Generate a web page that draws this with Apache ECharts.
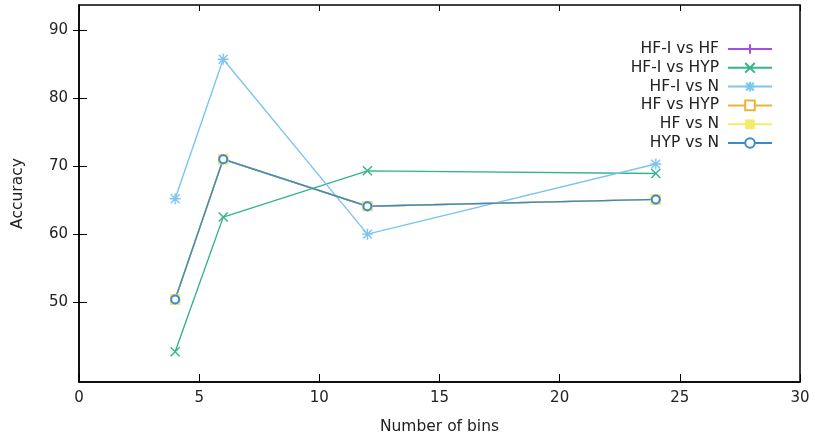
<!DOCTYPE html>
<html>
<head>
<meta charset="utf-8">
<script src="https://cdn.jsdelivr.net/npm/echarts@6/dist/echarts.min.js"></script>
<style>
  html, body { margin: 0; padding: 0; background: #fff; }
  #chart { width: 815px; height: 440px; }
</style>
</head>
<body>
<div id="chart"></div>
<script>
var bins = [4, 6, 12, 24];
var names = ['HF-I vs HF', 'HF-I vs HYP', 'HF-I vs N', 'HF vs HYP', 'HF vs N', 'HYP vs N'];
var hfiHf = [50.4, 71.0, 64.1, 65.1];
var hfiHyp = [42.7, 62.5, 69.3, 68.9];
var hfiN = [65.2, 85.7, 60.0, 70.3];
var hfHyp = [50.4, 71.0, 64.1, 65.1];
var hfN = [50.4, 71.0, 64.1, 65.1];
var hypN = [50.4, 71.0, 64.1, 65.1];
var yTicks = [50, 60, 70, 80, 90];

var colors = ['#a64ee0', '#33b48e', '#7cc5ef', '#eab43a', '#f4eb6a', '#3a8cc4'];
var plus = 'path://M0,-1L0,1M-1,0L1,0';
var cross = 'path://M-1,-1L1,1M-1,1L1,-1';
var star = 'path://M0,-1L0,1M-1,0L1,0M-0.8,-0.8L0.8,0.8M-0.8,0.8L0.8,-0.8';

function pairs(vals) {
	return bins.map(function (b, i) { return [b, vals[i]]; });
}

function mkSeries(name, vals, color, symbol, size) {
	var isPath = symbol.indexOf('path') === 0;
	var st = { color: color };
	if (isPath) {
		st.borderColor = color;
		st.borderWidth = 1.4;
	} else if (symbol.indexOf('empty') === 0) {
		st.borderWidth = 2;
	}
	return {
		name: name,
		type: 'line',
		data: pairs(vals),
		symbol: symbol,
		symbolSize: size,
		showAllSymbol: true,
		lineStyle: { color: color, width: 1.4 },
		itemStyle: st,
		emphasis: { disabled: true }
	};
}

var labelFont = { fontFamily: 'DejaVu Sans', fontSize: 15, color: '#222' };
var nameFont = { fontFamily: 'DejaVu Sans', fontSize: 15.5, color: '#222' };

var option = {
	animation: false,
	color: colors,
	grid: { left: 79, right: 15, top: 5, bottom: 56, show: true, borderColor: '#000', borderWidth: 1.5 },
	legend: {
		orient: 'vertical',
		right: 37,
		top: 36,
		align: 'right',
		itemWidth: 44,
		itemHeight: 12,
		itemGap: 2.8,
		textStyle: { fontFamily: 'DejaVu Sans', fontSize: 15.5, color: '#222', padding: [0, 4, 0, 0] },
		data: names
	},
	xAxis: [{
		type: 'value', min: 0, max: 30, interval: 5,
		name: 'Number of bins', nameLocation: 'middle', nameGap: 37,
		nameTextStyle: nameFont,
		axisLine: { lineStyle: { color: '#000', width: 1.5 } },
		axisTick: { inside: true, length: 8, lineStyle: { color: '#000' } },
		axisLabel: Object.assign({ margin: 9 }, labelFont),
		splitLine: { show: false }
	}, {
		type: 'value', position: 'top', min: 0, max: 30, interval: 5,
		axisLine: { show: false },
		axisTick: { inside: true, length: 6, lineStyle: { color: '#000' } },
		axisLabel: { show: false },
		splitLine: { show: false }
	}],
	yAxis: [{
		type: 'value', min: 38.27, max: 93.67,
		name: 'Accuracy', nameLocation: 'middle', nameGap: 53, nameRotate: 90,
		nameTextStyle: nameFont,
		axisLine: { show: true, lineStyle: { color: '#000', width: 1.5 } },
		axisTick: { inside: true, length: 8, customValues: yTicks, lineStyle: { color: '#000' } },
		axisLabel: Object.assign({ margin: 11, customValues: yTicks }, labelFont),
		splitLine: { show: false }
	}, {
		type: 'value', position: 'right', min: 38.27, max: 93.67,
		axisLine: { show: false },
		axisTick: { show: true, inside: true, length: 6, customValues: yTicks, lineStyle: { color: '#000' } },
		axisLabel: { show: false, customValues: yTicks },
		splitLine: { show: false }
	}],
	series: [
		mkSeries(names[0], hfiHf, colors[0], plus, 10),
		mkSeries(names[1], hfiHyp, colors[1], cross, 9),
		mkSeries(names[2], hfiN, colors[2], star, 11),
		mkSeries(names[3], hfHyp, colors[3], 'emptyRect', 8),
		mkSeries(names[4], hfN, colors[4], 'rect', 10),
		mkSeries(names[5], hypN, colors[5], 'emptyCircle', 8)
	]
};

var chart = echarts.init(document.getElementById('chart'));
chart.setOption(option);
</script>
</body>
</html>
